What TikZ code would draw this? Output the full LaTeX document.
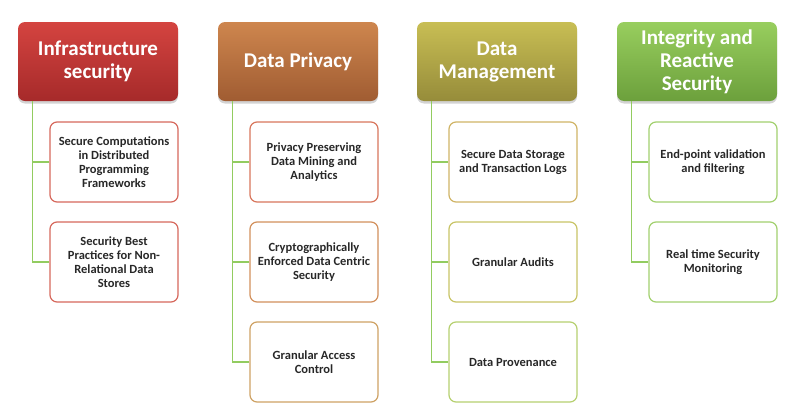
\documentclass[tikz,border=0pt]{standalone}
\usepackage{fontspec}
\setmainfont{Carlito}
\usetikzlibrary{shadows}

% header colours (top / bottom of the shading)
\definecolor{infraTop}{RGB}{212,68,64}
\definecolor{infraBot}{RGB}{166,42,42}
\definecolor{privTop}{RGB}{206,134,78}
\definecolor{privBot}{RGB}{160,92,50}
\definecolor{mgmtTop}{RGB}{200,190,84}
\definecolor{mgmtBot}{RGB}{150,140,58}
\definecolor{integTop}{RGB}{152,206,94}
\definecolor{integBot}{RGB}{108,160,60}
% child borders and tree lines
\definecolor{edgeA}{RGB}{214,104,92}
\definecolor{edgeB}{RGB}{216,118,92}
\definecolor{edgeC}{RGB}{210,144,92}
\definecolor{edgeD}{RGB}{206,162,100}
\definecolor{edgeE}{RGB}{208,180,102}
\definecolor{edgeF}{RGB}{200,196,102}
\definecolor{edgeG}{RGB}{182,208,112}
\definecolor{edgeH}{RGB}{162,208,110}
\definecolor{treeline}{RGB}{146,204,96}
\definecolor{childtext}{RGB}{40,40,40}

\tikzset{
  header/.style={rounded corners=7pt, minimum width=160pt, minimum height=79pt,
    align=center, text=white, font=\fontsize{21}{23}\selectfont\bfseries,
    drop shadow={opacity=0.35, shadow xshift=0pt, shadow yshift=-2.5pt}},
  child/.style={draw=#1, line width=1.2pt, fill=white, rounded corners=7pt,
    minimum width=128pt, minimum height=80pt, align=center, text=childtext,
    font=\fontsize{12.5}{14}\selectfont\bfseries, inner sep=2pt},
  link/.style={draw=treeline, line width=1.1pt}
}

\begin{document}
\begin{tikzpicture}[x=1pt, y=-1pt]
\useasboundingbox (0,0) rectangle (803,418);

% Column headers
\node[header, top color=infraTop, bottom color=infraBot] (h1) at (98,61.5) {Infrastructure\\security};
\node[header, top color=privTop, bottom color=privBot] (h2) at (298,61.5) {Data Privacy};
\node[header, top color=mgmtTop, bottom color=mgmtBot] (h3) at (497,61.5) {Data\\Management};
\node[header, top color=integTop, bottom color=integBot] (h4) at (697,61.5) {Integrity and\\Reactive\\Security};

% Infrastructure security
\node[child=edgeA] (c11) at (114,162) {Secure Computations\\in Distributed\\Programming\\Frameworks};
\node[child=edgeA] (c12) at (114,262) {Security Best\\Practices for Non-\\Relational Data\\Stores};

% Data privacy
\node[child=edgeB] (c21) at (314,162) {Privacy Preserving\\Data Mining and\\Analytics};
\node[child=edgeC] (c22) at (314,262) {Cryptographically\\Enforced Data Centric\\Security};
\node[child=edgeD] (c23) at (314,362) {Granular Access\\Control};

% Data management
\node[child=edgeE] (c31) at (513,162) {Secure Data Storage\\and Transaction Logs};
\node[child=edgeF] (c32) at (513,262) {Granular Audits};
\node[child=edgeG] (c33) at (513,362) {Data Provenance};

% Integrity and reactive security
\node[child=edgeH] (c41) at (713,162) {End-point validation\\and filtering};
\node[child=edgeH] (c42) at (713,262) {Real time Security\\Monitoring};

% Tree lines from each header down to its children
\foreach \col/\last in {1/2, 2/3, 3/3, 4/2} {
  \foreach \row in {1,...,\last} {
    \draw[link] ([xshift=15pt]h\col.south west) |- (c\col\row.west);
  }
}
\end{tikzpicture}
\end{document}
